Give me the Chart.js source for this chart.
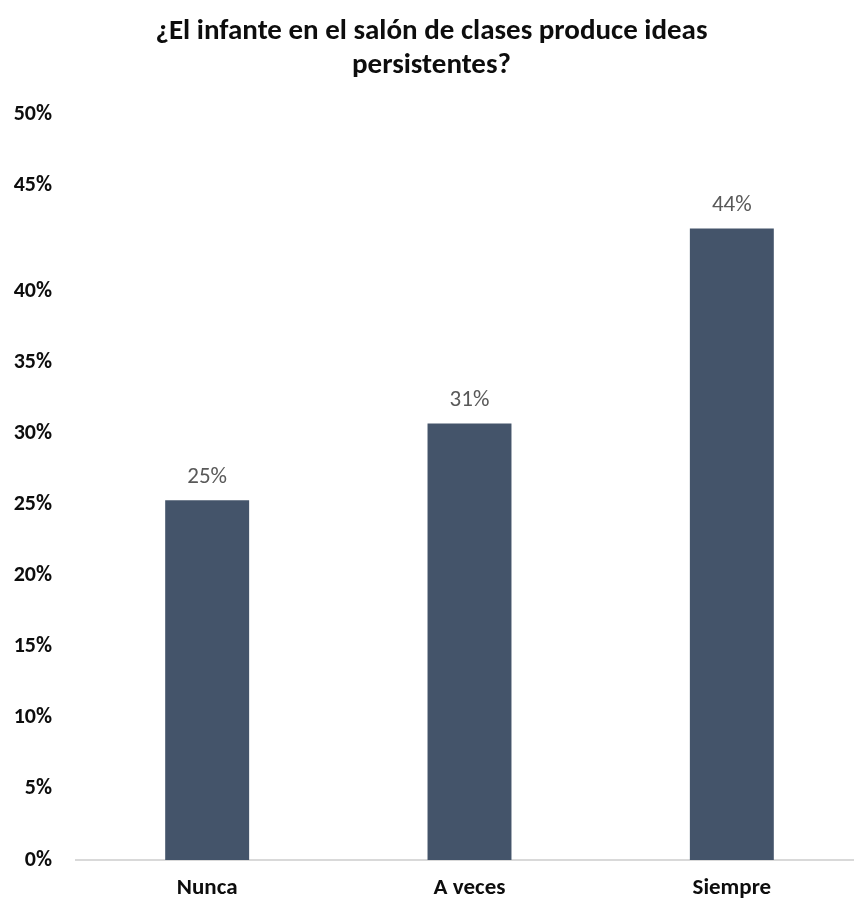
<!DOCTYPE html>
<html>
<head>
<meta charset="utf-8">
<script src="https://cdn.jsdelivr.net/npm/chart.js@4"></script>
<style>
  html, body { margin: 0; padding: 0; background: #fff; overflow: hidden; }
  #wrap { width: 863px; height: 902px; }
</style>
</head>
<body>
<div id="wrap"><canvas id="myChart" width="863" height="902"></canvas></div>
<script>
const categories = ['Nunca', 'A veces', 'Siempre'];
const values = [25.3, 30.7, 44.4];
// Excel draws the two top labels further apart than the others
const tickValues = [0, 5, 10, 15, 20, 25, 30, 35, 40, 47.4, 52.4];
const tickLabels = ['0%', '5%', '10%', '15%', '20%', '25%', '30%', '35%', '40%', '45%', '50%'];

const fontFamily = "Carlito, Calibri, Lato, 'Open Sans', sans-serif";

// etiquetas de valor encima de cada barra
const etiquetas = {
    id: 'etiquetas',
    afterDatasetsDraw(chart) {
        const ctx = chart.ctx;
        const meta = chart.getDatasetMeta(0);
        ctx.save();
        ctx.font = '23px ' + fontFamily;
        ctx.fillStyle = '#595959';
        ctx.textAlign = 'center';
        ctx.textBaseline = 'middle';
        meta.data.forEach((bar, i) => {
            ctx.fillText(Math.round(values[i]) + '%', bar.x, bar.y - 23);
        });
        ctx.restore();
    }
};

const ctx = document.getElementById('myChart').getContext('2d');
new Chart(ctx, {
    type: 'bar',
    data: {
        labels: categories,
        datasets: [{
            data: values,
            backgroundColor: '#44546A',
            borderWidth: 0,
            barPercentage: 0.32,
            categoryPercentage: 1
        }]
    },
    options: {
        responsive: false,
        animation: false,
        layout: { padding: { left: 0, right: 0, top: 0, bottom: 4 } },
        plugins: {
            legend: { display: false },
            tooltip: { enabled: false },
            title: {
                display: true,
                text: ['¿El infante en el salón de clases produce ideas', 'persistentes?'],
                color: '#0d0d0d',
                font: { family: fontFamily, size: 29, weight: 'bold', lineHeight: 1.17 },
                padding: { top: 15, bottom: 32 }
            }
        },
        scales: {
            x: {
                grid: { display: false, drawTicks: false },
                border: { display: true, color: '#d9d9d9', width: 2 },
                afterFit(scale) {
                    scale.height = 38;
                },
                ticks: {
                    color: '#0d0d0d',
                    padding: 14,
                    font: { family: fontFamily, size: 23, weight: 'bold' }
                }
            },
            y: {
                min: 0,
                max: 52.4,
                grid: { display: false, drawTicks: false },
                border: { display: false },
                afterBuildTicks(scale) {
                    scale.ticks = tickValues.map(v => ({ value: v }));
                },
                afterFit(scale) {
                    scale.width = 76;
                },
                ticks: {
                    color: '#0d0d0d',
                    padding: 24,
                    font: { family: fontFamily, size: 22, weight: 'bold' },
                    callback: (value, index) => tickLabels[index]
                }
            }
        }
    },
    plugins: [etiquetas]
});
</script>
</body>
</html>
